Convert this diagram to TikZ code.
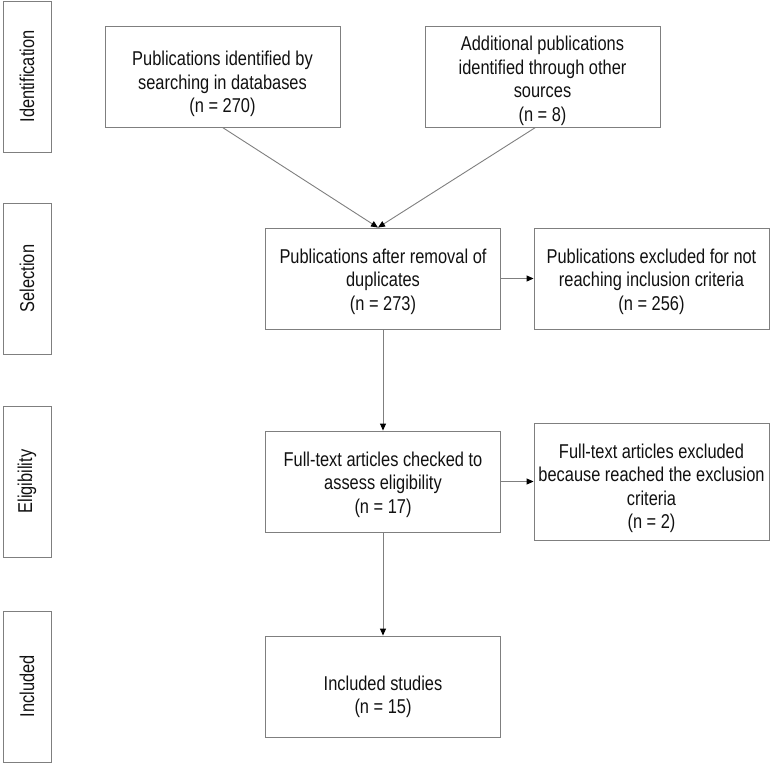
\documentclass[tikz,border=0pt]{standalone}
\usepackage{fontspec}
\setmainfont[FakeStretch=0.82]{Liberation Sans}
\usetikzlibrary{calc,positioning,arrows.meta}
\definecolor{cLineGray}{HTML}{7F7F7F}
\definecolor{cTextGray}{HTML}{111111}

\begin{document}
\begin{tikzpicture}[x=1pt,y=-1pt,
    stagebox/.style={draw=cLineGray,line width=0.9pt,minimum width=48pt,minimum height=151pt,inner sep=0pt},
    flowbox/.style={draw=cLineGray,line width=0.9pt,minimum width=235pt,minimum height=101pt,inner sep=0pt},
    flowtext/.style={align=center,inner sep=0pt,text=cTextGray,font=\fontsize{20}{23.5}\selectfont},
    flowarrow/.style={draw=cLineGray,line width=0.9pt,-{Triangle[length=7pt,width=6pt,color=black]}}]
       \useasboundingbox (0,0) rectangle (771,764);
       %設定各列的中心高度
       \pgfmathsetmacro{\RowA}{76.5}
       \pgfmathsetmacro{\RowB}{278.5}
       \pgfmathsetmacro{\RowC}{481.5}
       \pgfmathsetmacro{\RowD}{686.5}
       
       %畫出左側階段標籤
       \foreach \n/\y/\t in
       {nIdent/\RowA/Identification,
           nSelect/\RowB/Selection,
           nElig/\RowC/Eligibility,
           nIncl/\RowD/Included
        }
        {
            \node[stagebox] (\n) at (27,\y) {};
            \node[rotate=90,text=cTextGray,font=\fontsize{20}{23.5}\selectfont] at (\n) {\t};
        };
       
       %畫出流程方塊
       \node[flowbox] (nDatabase) at (222.5,\RowA) {};
       \node[flowbox] (nOther) at (542.5,\RowA) {};
       \node[flowbox] (nAfterDup) at (383,\RowB) {};
       \node[flowbox] (nExclA) at (651.5,\RowB) {};
       \node[flowbox] (nFullText) at (383,\RowC) {};
       \node[flowbox,minimum height=117pt] (nExclB) at (651.5,\RowC) {};
       \node[flowbox] (nStudies) at (383,\RowD) {};
       
       %方塊內的文字
       \node[flowtext] (nDatabaseTxt) at ($(nDatabase)+(0,7.5)$) {Publications identified by\\searching in databases\\(n = 270)};
       \node[flowtext] (nOtherTxt) at ($(nOther)+(0,4.5)$) {Additional publications\\identified through other\\sources\\(n = 8)};
       \node[flowtext] (nAfterDupTxt) at ($(nAfterDup)+(0,3)$) {Publications after removal of\\duplicates\\(n = 273)};
       \node[flowtext] (nExclATxt) at ($(nExclA)+(0,3)$) {Publications excluded for not\\reaching inclusion criteria\\(n = 256)};
       \node[flowtext] (nFullTextTxt) at ($(nFullText)+(0,3)$) {Full-text articles checked to\\assess eligibility\\(n = 17)};
       \node[flowtext] (nExclBTxt) at ($(nExclB)+(0,7)$) {Full-text articles excluded\\because reached the exclusion\\criteria\\(n = 2)};
       \node[flowtext] (nStudiesTxt) at ($(nStudies)+(0,10.5)$) {Included studies\\(n = 15)};
       
       \coordinate (cMergePt) at ($(nAfterDup.north)+(-5,0)$);
       
       %畫出箭頭
       \draw[flowarrow] (nDatabase.south) -- (cMergePt);
       \draw[flowarrow] ($(nOther.south)+(-7,0)$) -- (cMergePt);
       \draw[flowarrow] (nAfterDup) -- (nExclA);
       \draw[flowarrow] (nAfterDup) -- (nFullText);
       \draw[flowarrow] (nFullText) -- (nExclB);
       \draw[flowarrow] (nFullText) -- (nStudies);
        %
        \end{tikzpicture}
\end{document}
